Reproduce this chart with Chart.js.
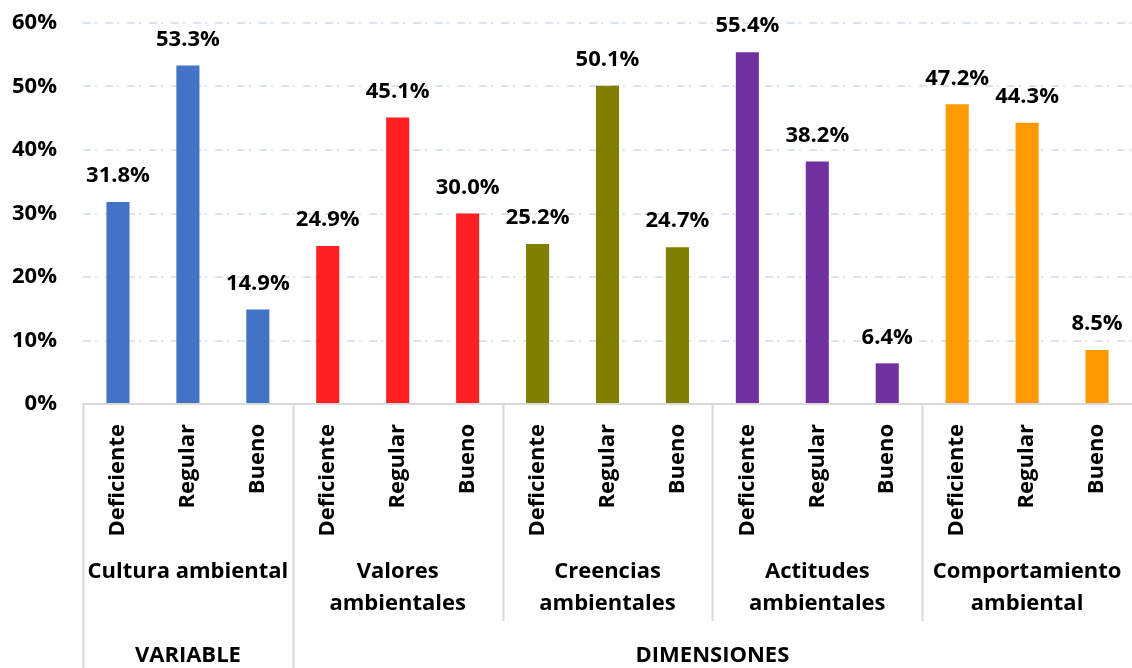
<!DOCTYPE html>
<html>
<head>
<meta charset="utf-8">
<script src="https://cdn.jsdelivr.net/npm/chart.js@4"></script>
<style>
  html, body { margin: 0; padding: 0; background: #fff; }
  #wrap { width: 1132px; height: 668px; }
</style>
</head>
<body>
<div id="wrap"><canvas id="bar-chart"></canvas></div>
<script>
var levels = ["Deficiente", "Regular", "Bueno"];
var groups = [["Cultura ambiental"], ["Valores", "ambientales"], ["Creencias", "ambientales"], ["Actitudes", "ambientales"], ["Comportamiento", "ambiental"]];
var sections = ["VARIABLE", "DIMENSIONES"];
var sectionSizes = [1, 4];
var values = [31.8, 53.3, 14.9, 24.9, 45.1, 30.0, 25.2, 50.1, 24.7, 55.4, 38.2, 6.4, 47.2, 44.3, 8.5];
var groupColors = ["#4472C4", "#FF2121", "#7F7F00", "#7030A0", "#FF9900"];

var labels = [], colors = [];
groups.forEach(function (g, i) {
  levels.forEach(function (l) { labels.push(l); colors.push(groupColors[i]); });
});

var FONT = "'Open Sans', 'Liberation Sans', sans-serif";

// value labels above the bars
var valueLabels = {
  id: 'valueLabels',
  afterDatasetsDraw: function (chart) {
    var ctx = chart.ctx;
    ctx.save();
    ctx.font = "bold 22px " + FONT;
    ctx.fillStyle = "#000";
    ctx.textAlign = "center";
    ctx.textBaseline = "middle";
    chart.getDatasetMeta(0).data.forEach(function (bar, i) {
      ctx.fillText(values[i].toFixed(1) + "%", bar.x, bar.y - 26);
    });
    ctx.restore();
  }
};

// group labels, section labels and separator lines under the x axis
var groupAxis = {
  id: 'groupAxis',
  afterDraw: function (chart) {
    var ctx = chart.ctx, x = chart.scales.x;
    var top = chart.chartArea.bottom;
    var step = x.getPixelForValue(1) - x.getPixelForValue(0);
    var edge = function (i) { return x.getPixelForValue(i) - step / 2; };
    ctx.save();
    ctx.strokeStyle = "#d9d9d9";
    ctx.lineWidth = 2;
    ctx.fillStyle = "#000";
    ctx.textAlign = "center";
    ctx.textBaseline = "middle";

    var sectionStarts = [0];
    sectionSizes.forEach(function (n, i) { sectionStarts.push(sectionStarts[i] + n); });
    for (var g = 0; g < groups.length; g++) {
      var full = sectionStarts.indexOf(g) >= 0;
      var px = Math.round(edge(g * 3)) + 0.5;
      ctx.beginPath();
      ctx.moveTo(px, top);
      ctx.lineTo(px, full ? chart.height : top + 217);
      ctx.stroke();
    }

    ctx.font = "bold 22px " + FONT;
    groups.forEach(function (lines, g) {
      var cx = (edge(g * 3) + edge(g * 3 + 3)) / 2;
      lines.forEach(function (t, k) { ctx.fillText(t, cx, 572 + k * 32); });
    });

    sections.forEach(function (s, i) {
      var a = edge(sectionStarts[i] * 3), b = edge(sectionStarts[i + 1] * 3);
      ctx.fillText(s, (a + b) / 2, 656);
    });
    ctx.restore();
  }
};

new Chart(document.getElementById("bar-chart"), {
  type: 'bar',
  data: {
    labels: labels,
    datasets: [{
      data: values,
      backgroundColor: colors,
      barPercentage: 0.33,
      categoryPercentage: 1
    }]
  },
  options: {
    responsive: true,
    maintainAspectRatio: false,
    animation: false,
    layout: { padding: { top: 23, right: 0, left: 0, bottom: 0 } },
    plugins: { legend: { display: false }, tooltip: { enabled: false } },
    scales: {
      x: {
        grid: { display: false },
        border: { color: "#d9d9d9", width: 2 },
        ticks: {
          autoSkip: false, minRotation: 90, maxRotation: 90, padding: 12,
          color: "#000", font: { family: FONT, size: 22, weight: "bold" }
        },
        afterFit: function (s) { s.height = 264; s.paddingLeft = 0; s.paddingRight = 0; }
      },
      y: {
        min: 0, max: 60,
        border: { display: false, dash: [8, 4, 2, 8] },
        grid: { color: "#d9e2f3", lineWidth: 2, drawTicks: false },
        ticks: {
          stepSize: 10, padding: 26, color: "#000",
          font: { family: FONT, size: 22, weight: "bold" },
          callback: function (v) { return v + "%"; }
        },
        afterFit: function (s) { s.width = 83; s.paddingTop = 0; s.paddingBottom = 0; }
      }
    }
  },
  plugins: [valueLabels, groupAxis]
});
</script>
</body>
</html>
